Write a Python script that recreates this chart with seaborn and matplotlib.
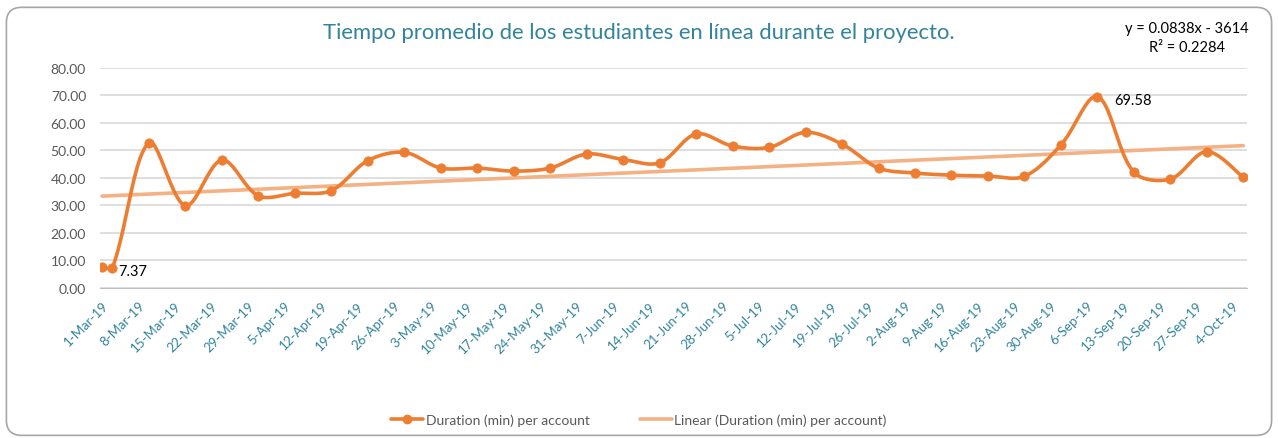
import numpy as np
import pandas as pd
import matplotlib
matplotlib.use("Agg")
import matplotlib.pyplot as plt
import matplotlib.dates as mdates
from matplotlib.lines import Line2D
from matplotlib.patches import FancyBboxPatch
import seaborn as sns

# Datos
fechas = ["2019-03-01", "2019-03-03", "2019-03-10", "2019-03-17", "2019-03-24",
          "2019-03-31", "2019-04-07", "2019-04-14", "2019-04-21", "2019-04-28",
          "2019-05-05", "2019-05-12", "2019-05-19", "2019-05-26", "2019-06-02",
          "2019-06-09", "2019-06-16", "2019-06-23", "2019-06-30", "2019-07-07",
          "2019-07-14", "2019-07-21", "2019-07-28", "2019-08-04", "2019-08-11",
          "2019-08-18", "2019-08-25", "2019-09-01", "2019-09-08", "2019-09-15",
          "2019-09-22", "2019-09-29", "2019-10-06"]
duracion = [7.7, 7.37, 52.8, 29.9, 46.5, 33.5, 34.4, 35.4, 46.3, 49.3,
            43.6, 43.6, 42.5, 43.6, 48.7, 46.7, 45.5, 56.0, 51.6, 51.1,
            56.6, 52.3, 43.6, 41.8, 41.0, 40.7, 40.6, 52.0, 69.58, 42.1,
            39.6, 49.6, 40.2]
etiquetas = {1: "7.37", 28: "69.58"}

# tendencia lineal de Excel (x = número de serie de fecha)
pendiente = 0.0838
intercepto = -3614
r2 = 0.2284

naranja = "#ED7D31"
naranja_claro = "#F4B183"
verde_azul = "#31849B"
gris = "#595959"

df = pd.DataFrame({"fecha": pd.to_datetime(fechas), "duracion": duracion})
df["x"] = mdates.date2num(df["fecha"])


# curva suavizada tipo Excel (Bezier, tangentes según largo de tramos en pantalla)
def suavizar(x, y, sx=5.21, sy=2.754, n=25):
    P = np.column_stack([x, y])
    S = np.array([sx, sy])
    P = np.vstack([P[0], P, P[-1]])
    t = np.linspace(0, 1, n)[:, None]
    partes = []
    for i in range(len(x) - 1):
        p0, p1, p2, p3 = P[i], P[i + 1], P[i + 2], P[i + 3]
        d01 = np.linalg.norm((p1 - p0) * S)
        d12 = np.linalg.norm((p2 - p1) * S)
        d23 = np.linalg.norm((p3 - p2) * S)
        f1 = d12 / (d01 + d12) / 3 if d01 > 0 else 1 / 6
        f2 = d12 / (d12 + d23) / 3 if d23 > 0 else 1 / 6
        c1 = p1 + (p2 - p0) * f1
        c2 = p2 - (p3 - p1) * f2
        b = (1 - t) ** 3 * p1 + 3 * (1 - t) ** 2 * t * c1 + 3 * (1 - t) * t ** 2 * c2 + t ** 3 * p2
        partes.append(b if i == 0 else b[1:])
    c = np.vstack(partes)
    return pd.DataFrame({"x": c[:, 0], "y": c[:, 1]})


curva = suavizar(df["x"].values, df["duracion"].values)

x_ini = mdates.date2num(pd.Timestamp("2019-03-01"))
x_fin = df["x"].iloc[-1]
serie_excel = np.array([x_ini, x_fin]) + 25569  # días desde 1900 (Excel)
tendencia = pd.DataFrame({"x": [x_ini, x_fin], "y": pendiente * serie_excel + intercepto})

sns.set_style("white")
plt.rcParams["font.family"] = ["Lato", "DejaVu Sans"]

fig = plt.figure(figsize=(12.78, 4.39), dpi=100)
ax = fig.add_axes([0.0782, 0.3417, 0.8975, 0.5013])

sns.lineplot(data=tendencia, x="x", y="y", ax=ax, color=naranja_claro, linewidth=2.6)
sns.lineplot(data=curva, x="x", y="y", ax=ax, color=naranja, linewidth=2.6, sort=False)
sns.scatterplot(data=df, x="x", y="duracion", ax=ax, color=naranja, s=45,
                edgecolor=naranja, zorder=5)

for i, txt in etiquetas.items():
    dx = 6 if i == 1 else 17
    ax.annotate(txt, (df["x"].iloc[i], df["duracion"].iloc[i]), xytext=(dx, -3),
                textcoords="offset pixels", ha="left", va="center", fontsize=10.5, color="black")

ax.set_ylim(0, 80)
ax.set_yticks(np.arange(0, 81, 10))
ax.yaxis.set_major_formatter(matplotlib.ticker.FormatStrFormatter("%.2f"))
ax.set_xlim(x_ini - 0.4, x_fin + 0.7)
semanas = pd.date_range("2019-03-01", "2019-10-04", freq="7D")
ax.set_xticks(mdates.date2num(semanas))
ax.set_xticklabels([f"{d.day}-{d.strftime('%b')}-19" for d in semanas])
ax.set_xticks(mdates.date2num(pd.date_range("2019-03-01", "2019-10-06", freq="D")), minor=True)
plt.setp(ax.get_xticklabels(), rotation=45, ha="right", rotation_mode="anchor",
         color=verde_azul, fontsize=9.5)
ax.tick_params(axis="x", which="both", direction="inout", length=8, width=1, color="#A6A6A6", pad=4)
ax.tick_params(axis="y", length=0, labelsize=10, labelcolor=gris, pad=10)
ax.grid(axis="y", color="#D9D9D9", linewidth=1.2)
ax.set_axisbelow(True)
for s in ["top", "right", "left"]:
    ax.spines[s].set_visible(False)
ax.spines["bottom"].set_color("#BFBFBF")
ax.set_xlabel("")
ax.set_ylabel("")

fig.text(0.5, 0.925, "Tiempo promedio de los estudiantes en línea durante el proyecto.",
         ha="center", va="center", fontsize=15.8, color=verde_azul)
fig.text(0.929, 0.913, f"y = {pendiente}x - {abs(intercepto)}\nR² = {r2}", ha="center", va="center",
         fontsize=10.5, color="black", linespacing=1.45)

handles = [Line2D([], [], color=naranja, linewidth=2.6, marker="o", markersize=6),
           Line2D([], [], color=naranja_claro, linewidth=2.6)]
fig.legend(handles, ["Duration (min) per account", "Linear (Duration (min) per account)"],
           loc="center", bbox_to_anchor=(0.5, 0.041), ncol=2, frameon=False,
           fontsize=10, labelcolor=gris, handlelength=2.3, handletextpad=0.2, columnspacing=3.6)

borde = FancyBboxPatch((0.005, 0.006), 0.99, 0.975, boxstyle="round,pad=0,rounding_size=0.012",
                       transform=fig.transFigure, facecolor="none", edgecolor="#A6A6A6",
                       linewidth=1.2, mutation_aspect=2.9)
fig.patches.append(borde)

fig.savefig("out.png", dpi=100)
